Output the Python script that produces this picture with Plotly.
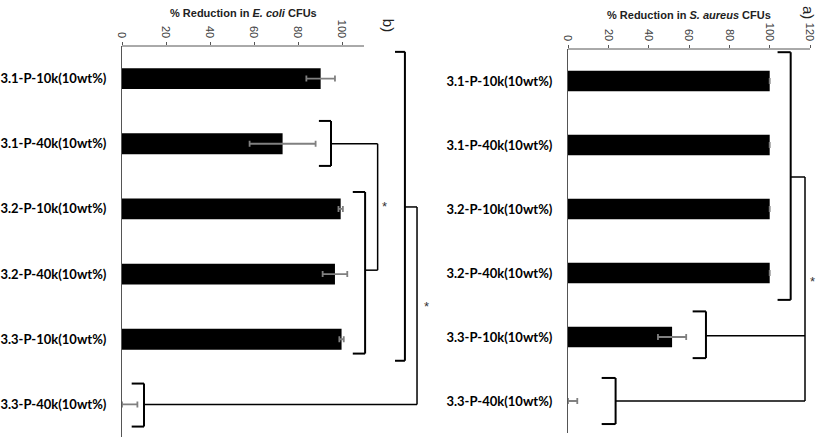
import plotly.graph_objects as go

categories = ["3.1-P-10k(10wt%)", "3.1-P-40k(10wt%)", "3.2-P-10k(10wt%)",
              "3.2-P-40k(10wt%)", "3.3-P-10k(10wt%)", "3.3-P-40k(10wt%)"]

ecoli_values = [90.3, 73.0, 99.4, 96.8, 99.8, 0.0]
ecoli_err_plus = [6.5, 15.0, 1.0, 5.6, 1.0, 7.0]
ecoli_err_minus = [6.5, 15.0, 1.0, 5.6, 1.0, 0.0]

saureus_values = [100.0, 100.0, 100.0, 100.0, 51.6, 0.0]
saureus_err_plus = [0.0, 0.0, 0.0, 0.0, 7.0, 4.6]
saureus_err_minus = [0.0, 0.0, 0.0, 0.0, 7.0, 0.0]

ecoli_ticks = [0, 20, 40, 60, 80, 100]
saureus_ticks = [0, 20, 40, 60, 80, 100, 120]

# brackets: (x value of spine, top index, bottom index, arm x value)
ecoli_brackets = [(128.6, -0.41, 4.33, 124.1), (10.0, 4.68, 5.34, 4.4),
                  (95.0, 0.65, 1.34, 89.5), (110.5, 1.74, 4.22, 104.9)]
# connectors: polyline points (x, index)
ecoli_connectors = [[(128.6, 1.97), (134.1, 1.97), (134.1, 5.0), (10.0, 5.0)],
                    [(95.0, 1.0), (116.2, 1.0), (116.2, 2.94), (110.5, 2.94)]]
ecoli_stars = [(119.2, 1.97), (138.5, 3.5)]

saureus_brackets = [(110.4, -0.45, 3.42, 103.9), (68.4, 3.6, 4.33, 61.8),
                    (23.6, 4.64, 5.36, 16.7)]
saureus_connectors = [[(110.4, 1.5), (117.5, 1.5), (117.5, 5.0), (23.6, 5.0)],
                      [(68.4, 3.98), (117.5, 3.98)]]
saureus_stars = [(121.3, 3.13)]

W, H = 818, 440
fig = go.Figure()

fig.add_trace(go.Bar(
    y=categories, x=ecoli_values, orientation="h", width=0.32,
    marker=dict(color="black", line=dict(width=0)),
    error_x=dict(type="data", array=ecoli_err_plus, arrayminus=ecoli_err_minus,
                 color="#808080", thickness=1.8, width=3),
    xaxis="x", yaxis="y", showlegend=False))
fig.add_trace(go.Bar(
    y=categories, x=saureus_values, orientation="h", width=0.32,
    marker=dict(color="black", line=dict(width=0)),
    error_x=dict(type="data", array=saureus_err_plus, arrayminus=saureus_err_minus,
                 color="#808080", thickness=1.8, width=3),
    xaxis="x2", yaxis="y2", showlegend=False))

tickfont = dict(family="Liberation Sans, Arial", size=11, color="#404040")
catfont = dict(family="Lato", size=13, color="black")

fig.update_layout(
    width=W, height=H, margin=dict(l=0, r=0, t=0, b=0, autoexpand=False),
    paper_bgcolor="white", plot_bgcolor="white",
    xaxis=dict(domain=[122 / W, 440 / W], range=[0, (440 - 122) / 2.2],
               side="top", anchor="y", tickvals=ecoli_ticks, tickangle=90,
               tickfont=tickfont, ticks="outside", ticklen=3, tickcolor="#555",
               showgrid=False, zeroline=False, showline=False, automargin=False),
    yaxis=dict(domain=[1 - 437 / H, 1 - 46 / H], range=[5.5, -0.5],
               type="category", categoryarray=categories, anchor="x",
               showline=True, linecolor="#555", linewidth=1, showgrid=False,
               tickfont=catfont, ticks="", ticklabelstandoff=12,
               tickprefix="<b>", ticksuffix="</b>", automargin=False),
    xaxis2=dict(domain=[568 / W, 1], range=[0, (818 - 568) / 2.017],
                side="top", anchor="y2", tickvals=saureus_ticks, tickangle=90,
                tickfont=tickfont, ticks="outside", ticklen=3, tickcolor="#555",
                showgrid=False, zeroline=False, showline=False, automargin=False),
    yaxis2=dict(domain=[1 - 433 / H, 1 - 49 / H], range=[5.5, -0.5],
                type="category", categoryarray=categories, anchor="x2",
                showline=True, linecolor="#555", linewidth=1, showgrid=False,
                tickfont=catfont, ticks="", ticklabelstandoff=12,
                tickprefix="<b>", ticksuffix="</b>", automargin=False),
    bargap=0.5,
)

shapes = []
shapes.append(dict(type="line", xref="x", yref="y domain", x0=0, x1=110, y0=1, y1=1,
                   line=dict(color="#555", width=1)))
shapes.append(dict(type="line", xref="x2", yref="y2 domain", x0=0, x1=120, y0=1, y1=1,
                   line=dict(color="#555", width=1)))

def add_brackets(brackets, connectors, xr, yr):
    for (xs, t, b, arm) in brackets:
        for (xa, ya, xb, yb) in [(arm, t, xs, t), (xs, t, xs, b), (xs, b, arm, b)]:
            shapes.append(dict(type="line", xref=xr, yref=yr, x0=xa, y0=ya, x1=xb, y1=yb,
                               line=dict(color="black", width=2)))
    for pts in connectors:
        for (p, q) in zip(pts[:-1], pts[1:]):
            shapes.append(dict(type="line", xref=xr, yref=yr, x0=p[0], y0=p[1],
                               x1=q[0], y1=q[1], line=dict(color="black", width=1.5)))

add_brackets(ecoli_brackets, ecoli_connectors, "x", "y")
add_brackets(saureus_brackets, saureus_connectors, "x2", "y2")
fig.update_layout(shapes=shapes)

ann = []
for (sx, sy) in ecoli_stars:
    ann.append(dict(xref="x", yref="y", x=sx, y=sy, text="*", showarrow=False,
                    font=dict(family="Liberation Sans", size=13, color="#333")))
for (sx, sy) in saureus_stars:
    ann.append(dict(xref="x2", yref="y2", x=sx, y=sy, text="*", showarrow=False,
                    font=dict(family="Liberation Sans", size=13, color="#333")))
ann.append(dict(xref="x", yref="paper", x=55, y=1 - 13 / H, yanchor="middle",
                xanchor="center",
                text="<b>% Reduction in <i>E. coli</i> CFUs</b>", showarrow=False,
                font=dict(family="Liberation Sans, Arial", size=11, color="#222")))
ann.append(dict(xref="x2", yref="paper", x=60, y=1 - 15 / H, yanchor="middle",
                xanchor="center",
                text="<b>% Reduction in <i>S. aureus</i> CFUs</b>", showarrow=False,
                font=dict(family="Liberation Sans, Arial", size=11, color="#222")))
ann.append(dict(xref="x", yref="paper", x=121, y=1 - 25 / H, yanchor="middle",
                text="b)", textangle=90,
                showarrow=False, font=dict(family="Liberation Sans", size=15, color="#222")))
ann.append(dict(xref="x2", yref="paper", x=119, y=1 - 12 / H, yanchor="middle",
                text="a)", textangle=90,
                showarrow=False, font=dict(family="Liberation Sans", size=15, color="#222")))
fig.update_layout(annotations=ann)

fig.write_html("out.html")
